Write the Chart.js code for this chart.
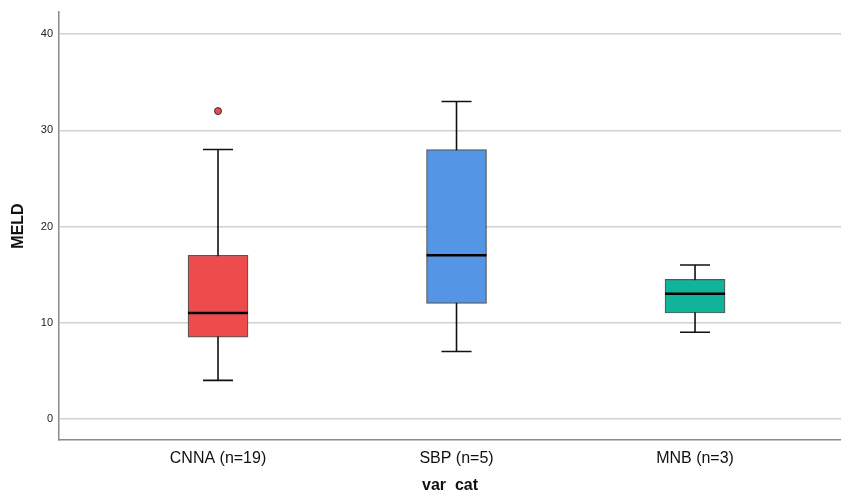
<!DOCTYPE html>
<html>
<head>
<meta charset="utf-8">
<script src="https://cdn.jsdelivr.net/npm/chart.js@4"></script>
<style>
  html, body { margin: 0; padding: 0; background: #fff; }
  .container { width: 841px; height: 495px; }
</style>
</head>
<body>
<div class="container"><canvas id="chart" width="841" height="495"></canvas></div>
<script>
const categories = ['CNNA (n=19)', 'SBP (n=5)', 'MNB (n=3)'];
const positions = [1, 2, 3];
const mins = [4, 7, 9];
const q1 = [8.5, 12, 11];
const medians = [11, 17, 13];
const q3 = [17, 28, 14.5];
const maxs = [28, 33, 16];
const outliers = [[32], [], []];
const yTicks = [0, 10, 20, 30, 40];
const colors = ['#EE4C4C', '#5595E6', '#12B39B'];

const font = 'Liberation Sans, Arial, sans-serif';

const whiskerPlugin = {
  id: 'whiskers',
  beforeDatasetsDraw(chart) {
    const { ctx, scales: { x, y } } = chart;
    ctx.save();
    ctx.strokeStyle = '#111';
    ctx.lineWidth = 1.6;
    positions.forEach((p, i) => {
      const px = x.getPixelForValue(p);
      ctx.beginPath();
      ctx.moveTo(px, y.getPixelForValue(mins[i]));
      ctx.lineTo(px, y.getPixelForValue(maxs[i]));
      ctx.moveTo(px - 15, y.getPixelForValue(mins[i]));
      ctx.lineTo(px + 15, y.getPixelForValue(mins[i]));
      ctx.moveTo(px - 15, y.getPixelForValue(maxs[i]));
      ctx.lineTo(px + 15, y.getPixelForValue(maxs[i]));
      ctx.stroke();
    });
    ctx.restore();
  },
  afterDatasetsDraw(chart) {
    const { ctx, scales: { x, y } } = chart;
    ctx.save();
    ctx.strokeStyle = '#000';
    ctx.lineWidth = 2.5;
    positions.forEach((p, i) => {
      const px = x.getPixelForValue(p);
      const py = y.getPixelForValue(medians[i]);
      ctx.beginPath();
      ctx.moveTo(px - 30, py);
      ctx.lineTo(px + 30, py);
      ctx.stroke();
    });
    ctx.restore();
  }
};

const outlierPoints = [];
outliers.forEach((list, i) => list.forEach(v => outlierPoints.push({ x: positions[i], y: v })));

new Chart(document.getElementById('chart'), {
  type: 'bar',
  data: {
    datasets: [
      {
        type: 'bar',
        data: positions.map((p, i) => ({ x: p, y: [q1[i], q3[i]] })),
        backgroundColor: colors,
        borderColor: 'rgba(30,30,30,0.75)',
        borderWidth: 1.2,
        borderSkipped: false,
        barThickness: 60
      },
      {
        type: 'scatter',
        data: outlierPoints,
        backgroundColor: colors[0],
        borderColor: '#333',
        borderWidth: 1,
        pointRadius: 3.5
      }
    ]
  },
  options: {
    responsive: false,
    animation: false,
    layout: { autoPadding: false, padding: { left: 0, right: 0, top: 12, bottom: 0 } },
    plugins: { legend: { display: false }, tooltip: { enabled: false } },
    scales: {
      x: {
        type: 'linear',
        offset: false,
        min: 1 / 3,
        max: 3.612,
        afterBuildTicks: s => { s.ticks = positions.map(v => ({ value: v })); },
        afterFit: s => { s.height = 55; s.paddingRight = 0; s.paddingLeft = 0; },
        grid: { display: false, drawTicks: false, offset: false },
        border: { display: true, color: '#8a8a8a', width: 1.5 },
        ticks: {
          padding: 9,
          color: '#111',
          font: { family: font, size: 16 },
          callback: v => categories[positions.indexOf(v)]
        },
        title: {
          display: true,
          text: 'var  cat',
          color: '#111',
          font: { family: font, size: 16, weight: 'bold' },
          padding: { top: 0, bottom: 0 }
        }
      },
      y: {
        min: -2.2,
        max: 42.3,
        afterBuildTicks: s => { s.ticks = yTicks.map(v => ({ value: v })); },
        afterFit: s => { s.width = 59; s.paddingTop = 0; s.paddingBottom = 0; },
        grid: { color: '#d0d0d0', lineWidth: 1.5, drawTicks: false },
        border: { display: true, color: '#8a8a8a', width: 1.5 },
        ticks: {
          padding: 6,
          color: '#222',
          font: { family: font, size: 11 }
        },
        title: {
          display: true,
          text: 'MELD',
          color: '#111',
          font: { family: font, size: 16, weight: 'bold' },
          padding: { top: 9, bottom: 0 }
        }
      }
    }
  },
  plugins: [whiskerPlugin]
});
</script>
</body>
</html>
